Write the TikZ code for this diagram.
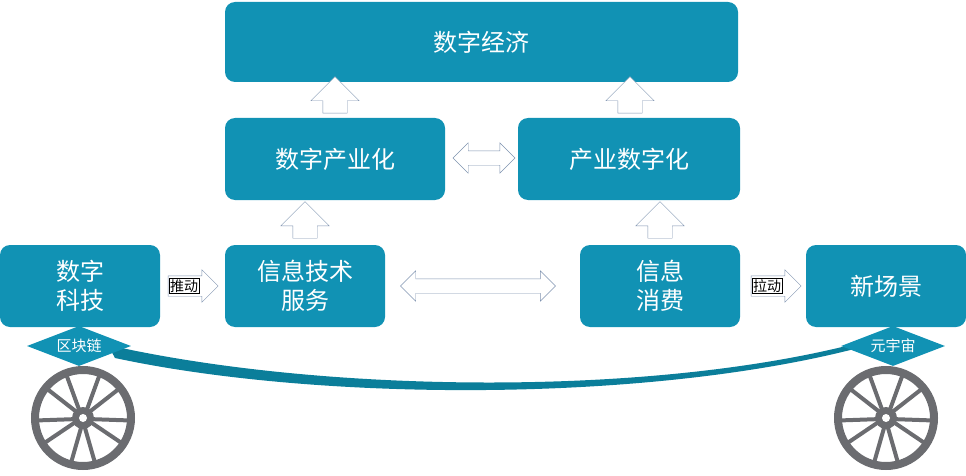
\documentclass[tikz,border=0pt]{standalone}
\usepackage{fontspec}
\setmainfont{Noto Sans CJK SC}
\usetikzlibrary{shapes.arrows,shapes.geometric}
\definecolor{boxblue}{HTML}{1192B4}
\definecolor{swoosh}{HTML}{0B7E9A}
\definecolor{rimgray}{HTML}{6B6C70}
\definecolor{arrline}{HTML}{7F93B0}
\begin{document}
\begin{tikzpicture}[x=1pt,y=-1pt,
    main box/.style={rectangle,rounded corners=10pt,fill=boxblue,text=white,font=\fontsize{24}{29}\selectfont,align=center,inner sep=0pt},
    up arrow/.style={single arrow,draw=arrline,fill=white,shape border rotate=90,inner sep=12pt,single arrow head extend=12pt,minimum height=30pt},
    both arrow/.style={double arrow,draw=arrline,fill=white,inner sep=7pt,double arrow head extend=8pt},
    push arrow/.style={single arrow,draw=arrline,fill=white,inner sep=10pt,single arrow head extend=6pt,minimum height=50pt},
    tag/.style={diamond,fill=boxblue,text=white,font=\fontsize{15}{17}\selectfont,aspect=2.7,inner sep=2pt,minimum width=104pt,minimum height=40pt},
    ]
    \useasboundingbox (0,0) rectangle (966,476);

    \node[main box,minimum width=513pt,minimum height=80pt] (econ) at (481.5,42) {数字经济};
    \node[main box,minimum width=220pt,minimum height=82pt] (dind) at (335,159) {数字产业化};
    \node[main box,minimum width=222pt,minimum height=82pt] (idig) at (629,159) {产业数字化};
    \node[main box,minimum width=160pt,minimum height=82pt] (tech) at (80,286) {数字\\科技};
    \node[main box,minimum width=160pt,minimum height=82pt] (serv) at (305,286) {信息技术\\服务};
    \node[main box,minimum width=160pt,minimum height=82pt] (cons) at (660,286) {信息\\消费};
    \node[main box,minimum width=160pt,minimum height=82pt] (scene) at (886,286) {新场景};

    % hollow arrows between layers
    \node[up arrow] (u1) at (335,101) {};
    \node[up arrow] (u2) at (630,101) {};
    \node[up arrow] (u3) at (305,226) {};
    \node[up arrow] (u4) at (660,226) {};
    \node[both arrow,minimum height=62pt] (d1) at (484,158) {};
    \node[both arrow,minimum height=155pt] (d2) at (478,286) {};
    \node[push arrow] (p1) at (188,286) {};
    \node[push arrow] (p2) at (771,286) {};
    \node[draw=black,fill=white,inner sep=1pt,font=\fontsize{14}{16}\selectfont] (push) at (184,286) {推动};
    \node[draw=black,fill=white,inner sep=1pt,font=\fontsize{14}{16}\selectfont] (pull) at (767,286) {拉动};

    % swoosh
    \fill[swoosh] (108,345) .. controls (320,393) and (650,398) .. (862,342)
        -- (862,347) .. controls (650,403) and (320,402) .. (115,358) -- cycle;

    % wheels
    \foreach \cx/\nm in {83/lw,886/rw}{
      \draw[rimgray,line width=8pt] (\cx,418) circle (48);
      \fill[rimgray] (\cx,418) circle (11);
      \fill[white] (\cx,418) circle (4);
      \foreach \a in {18,90,...,359}{
        \draw[rimgray,line width=4pt] (\cx,418) ++(\a-10:8) -- ++(\a-16:42);
        \draw[rimgray,line width=4pt] (\cx,418) ++(\a+10:8) -- ++(\a+16:42);
      }
    }

    \node[tag] (chain) at (79,346) {区块链};
    \node[tag] (meta) at (893,346) {元宇宙};
\end{tikzpicture}
\end{document}
